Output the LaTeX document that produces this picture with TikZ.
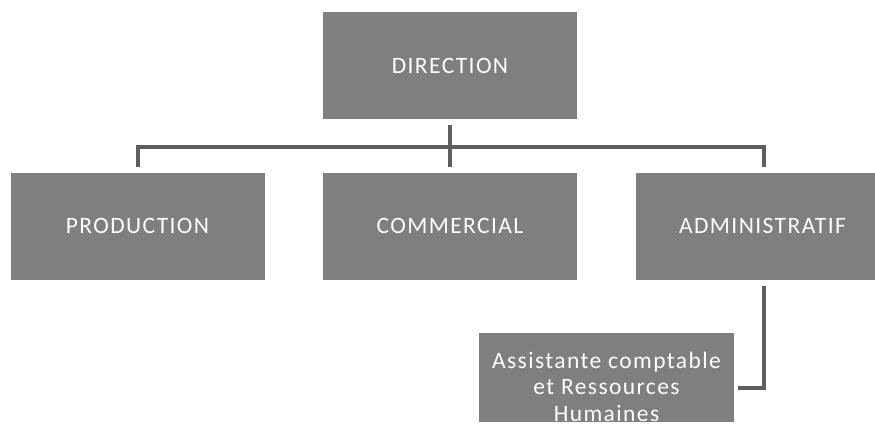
\documentclass[tikz,border=0pt]{standalone}
\usepackage{fontspec}
\setmainfont{Carlito}[LetterSpace=6]
\usetikzlibrary{positioning}
\definecolor{boxgray}{HTML}{7F7F7F}
\definecolor{linegray}{HTML}{5E5E5E}
\begin{document}
\begin{tikzpicture}[x=1pt,y=-1pt,
  box/.style={fill=boxgray,text=white,inner sep=0pt,minimum width=254pt,minimum height=107pt,font=\myfontbox},
  link/.style={draw=linegray,line width=4pt}]
\newcommand{\myfontbox}{\fontsize{23.5}{26.5}\selectfont}
\useasboundingbox (0,0) rectangle (875,432);
%Top of the chart
\coordinate (top) at (450,65.5);
\node [box] (direction) at (top) {DIRECTION};
%Departments
\coordinate (dep0) at (137.5,226);
\coordinate (dep1) at (450,226);
\coordinate (dep2) at (762.5,226);
\node [box] (production) at (dep0) {PRODUCTION};
\node [box] (commercial) at (dep1) {COMMERCIAL};
\node [box] (administratif) at (dep2) {ADMINISTRATIF};
%Assistant under the administration
\coordinate (sub0) at (606.5,377.5);
\node [box,minimum width=255pt,minimum height=89pt] (assistante) at (sub0) {};
\node [text=white,font=\myfontbox,align=center,inner sep=0pt] (assistantetext) at ([yshift=-9pt]assistante.center) {Assistante comptable\\et Ressources\\Humaines};
%Lines between the levels
\coordinate (bus) at (450,147);
\draw [link] ([yshift=-6pt]direction.south) -- ([yshift=5pt]commercial.north);
\draw [link] ([xshift=0.5pt,yshift=5pt]production.north) |- (bus) -| ([xshift=1.5pt,yshift=5pt]administratif.north);
\draw [link] ([xshift=1.5pt,yshift=-6pt]administratif.south) |- ([xshift=4pt,yshift=-10.5pt]assistante.east);
\end{tikzpicture}
\end{document}
